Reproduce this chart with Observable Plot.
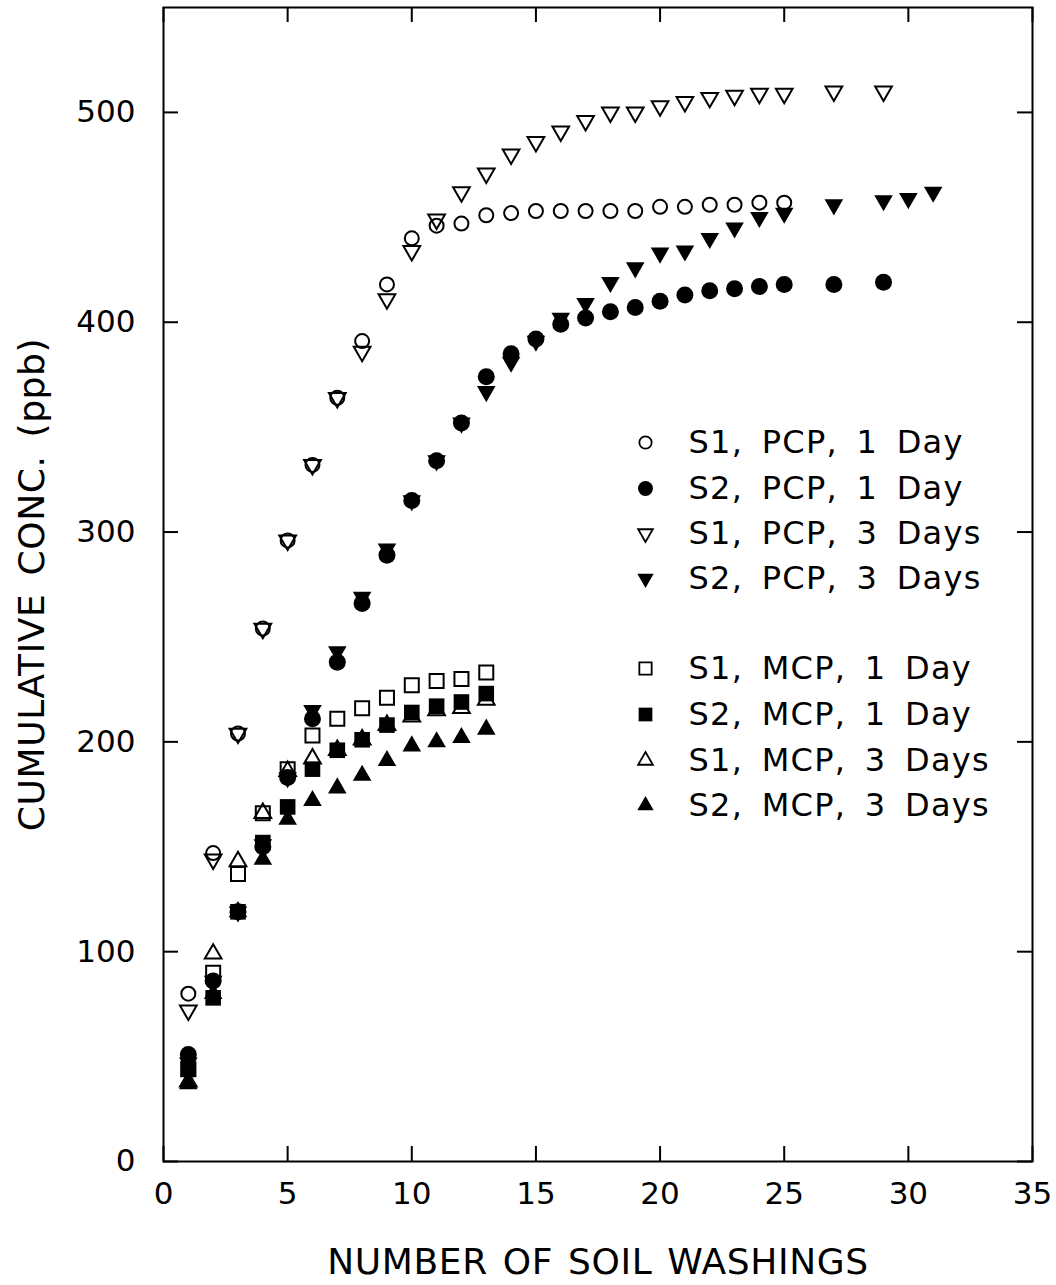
<!DOCTYPE html>
<html>
<head>
<meta charset="utf-8">
<script src="https://cdn.jsdelivr.net/npm/d3@7"></script>
<script src="https://cdn.jsdelivr.net/npm/@observablehq/plot@0.6"></script>
<style>
  html, body { margin: 0; padding: 0; background: #fff; }
</style>
</head>
<body>
<div id="chart"></div>
<script>
// ---- data ----
const xTicks = [0, 5, 10, 15, 20, 25, 30, 35];
const yTicks = [0, 100, 200, 300, 400, 500];

const washA = [1,2,3,4,5,6,7,8,9,10,11,12,13,14,15,16,17,18,19,20,21,22,23,24,25];
const washB = [1,2,3,4,5,6,7,8,9,10,11,12,13,14,15,16,17,18,19,20,21,22,23,24,25,27,29];
const washC = [1,2,3,4,5,6,7,8,9,10,11,12,13,14,15,16,17,18,19,20,21,22,23,24,25,27,29,30,31];
const washM = [1,2,3,4,5,6,7,8,9,10,11,12,13];

const s1Pcp1 = [80,147,204,254,296,332,364,391,418,440,446,447,451,452,453,453,453,453,453,455,455,456,456,457,457];
const s2Pcp1 = [51,86,119,150,183,211,238,266,289,315,334,352,374,385,392,399,402,405,407,410,413,415,416,417,418,418,419];
const s1Pcp3 = [72,144,204,254,296,332,364,386,411,434,449,462,471,480,486,491,496,500,500,503,505,507,508,509,509,510,510];
const s2Pcp3 = [47,86,119,151,183,215,243,269,292,315,334,352,367,381,391,402,409,419,426,433,434,440,445,450,452,456,458,459,462];
const s1Mcp1 = [44,90,137,166,187,203,211,216,221,227,229,230,233];
const s2Mcp1 = [44,78,119,152,169,187,196,201,208,214,217,219,223];
const s1Mcp3 = [38,99,143,166,186,192,196,201,208,212,215,216,220];
const s2Mcp3 = [37,80,119,144,163,172,178,184,191,198,200,202,206];

const labels = [
  "S1, PCP, 1 Day", "S2, PCP, 1 Day", "S1, PCP, 3 Days", "S2, PCP, 3 Days",
  "S1, MCP, 1 Day", "S2, MCP, 1 Day", "S1, MCP, 3 Days", "S2, MCP, 3 Days"
];
const xs = [washA, washB, washB, washC, washM, washM, washM, washM];
const ys = [s1Pcp1, s2Pcp1, s1Pcp3, s2Pcp3, s1Mcp1, s2Mcp1, s1Mcp3, s2Mcp3];

// ---- styling per series ----
const symbolOf = ["circle","circle","triangle","triangle","square","square","triangle","triangle"];
const filledOf = [false,true,false,true,false,true,false,true];
const rotateOf = [0,0,180,180,0,0,0,0];
const radius = {
  circle: {open: 7, filled: 8.5},
  triangle: {open: 6.2, filled: 6.9},
  square: {open: 7.9, filled: 8.8}
};

const series = labels.map((label, i) => ({
  label, symbol: symbolOf[i], filled: filledOf[i], rotate: rotateOf[i],
  rows: xs[i].map((x, j) => ({x, y: ys[i][j]}))
}));

const marginLeft = 163, marginRight = 24, marginTop = 7, marginBottom = 124;
const W = 1056, H = 1285;
const plotW = W - marginLeft - marginRight;
const plotH = H - marginTop - marginBottom;
const tickLen = 15;

function seriesMark(s) {
  const r = radius[s.symbol][s.filled ? "filled" : "open"];
  const base = {x: "x", y: "y", symbol: () => s.symbol, r, rotate: s.rotate};
  return s.filled
    ? Plot.dot(s.rows, {...base, fill: "black", stroke: "none"})
    : Plot.dot(s.rows, {...base, fill: "none", stroke: "black", strokeWidth: 2});
}

const legendRowsY = [442, 488, 533, 578, 668, 714, 760, 805];
const legendMarks = [];
series.forEach((s, i) => {
  const dy = legendRowsY[i] - marginTop;
  const r = radius[s.symbol][s.filled ? "filled" : "open"] * 0.88;
  legendMarks.push(Plot.dot([s], {
    frameAnchor: "top-left", dx: 645 - marginLeft, dy,
    symbol: () => s.symbol, r, rotate: s.rotate,
    fill: s.filled ? "black" : "none", stroke: s.filled ? "none" : "black", strokeWidth: 1.8
  }));
  legendMarks.push(Plot.text([s.label], {
    frameAnchor: "top-left", dx: 688 - marginLeft, dy, text: d => d,
    textAnchor: "start", lineAnchor: "middle", fontSize: 32
  }));
});

const xTitle = "NUMBER OF SOIL WASHINGS";
const yTitle = "CUMULATIVE CONC. (ppb)";

const chart = Plot.plot({
  width: W, height: H,
  marginLeft, marginRight, marginTop, marginBottom,
  x: {domain: [0, 35]},
  y: {domain: [0, 550]},
  style: {fontFamily: "'DejaVu Sans', sans-serif", color: "black", background: "white", overflow: "visible"},
  marks: [
    // inward ticks on all four sides
    Plot.tickY(yTicks, {y: d => d, insetRight: plotW - tickLen, stroke: "black", strokeWidth: 2}),
    Plot.tickY(yTicks, {y: d => d, insetLeft: plotW - tickLen, stroke: "black", strokeWidth: 2}),
    Plot.tickX(xTicks, {x: d => d, insetTop: plotH - tickLen, stroke: "black", strokeWidth: 2}),
    Plot.tickX(xTicks, {x: d => d, insetBottom: plotH - tickLen, stroke: "black", strokeWidth: 2}),
    Plot.axisY({ticks: yTicks, tickSize: 0, tickPadding: 28, fontSize: 31, label: null}),
    Plot.axisX({ticks: xTicks, tickSize: 0, tickPadding: 20, fontSize: 31, label: null}),
    Plot.frame({stroke: "black", strokeWidth: 2}),
    // open symbols first, filled on top
    ...series.filter(s => !s.filled).map(seriesMark),
    ...series.filter(s => s.filled).map(seriesMark),
    ...legendMarks,
    Plot.text([xTitle], {frameAnchor: "bottom", dy: 101, lineAnchor: "middle", textAnchor: "middle", text: d => d, fontSize: 36}),
    Plot.text([yTitle], {frameAnchor: "left", dx: -131, rotate: -90, lineAnchor: "middle", textAnchor: "middle", text: d => d, fontSize: 36})
  ]
});
document.getElementById("chart").appendChild(chart);

// letter spacing to mimic the wide plotter lettering
d3.select(chart).selectAll("text").each(function() {
  const t = this.textContent;
  if (labels.includes(t)) {
    this.setAttribute("letter-spacing", "1.3");
    this.setAttribute("word-spacing", "7");
  } else if (t === xTitle) {
    this.setAttribute("letter-spacing", "0.6");
    this.setAttribute("word-spacing", "3");
  } else if (t === yTitle) {
    this.setAttribute("letter-spacing", "0.6");
    this.setAttribute("word-spacing", "6");
  }
});
</script>
</body>
</html>
